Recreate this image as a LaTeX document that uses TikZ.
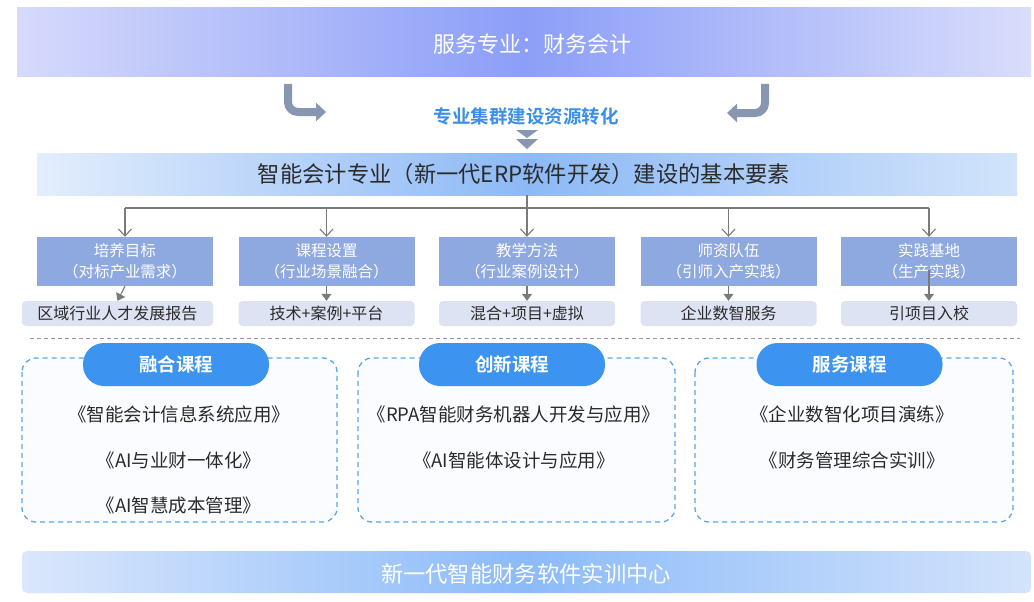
\documentclass[tikz,border=0pt]{standalone}
\usepackage{fontspec}
\setmainfont{Noto Sans CJK SC}
\newfontfamily\cjkb{Noto Sans CJK SC}[BoldFont={Noto Sans CJK SC Bold}]
\usetikzlibrary{arrows.meta,calc}
\definecolor{banA}{HTML}{D6DAFB}
\definecolor{banB}{HTML}{8C9EF8}
\definecolor{banC}{HTML}{D9DDFB}
\definecolor{subA}{HTML}{E3EEFC}
\definecolor{subB}{HTML}{8DB9F6}
\definecolor{subC}{HTML}{D2E4FB}
\definecolor{botA}{HTML}{DAE7FC}
\definecolor{botB}{HTML}{8CBBF9}
\definecolor{botC}{HTML}{D3E3FB}
\definecolor{arrgray}{HTML}{8797B2}
\definecolor{linegray}{HTML}{7A7A7A}
\definecolor{boxblue}{HTML}{8EA8E0}
\definecolor{subbox}{HTML}{DDE3F3}
\definecolor{txtdark}{HTML}{2B2B2B}
\definecolor{titleblue}{HTML}{3B8FE8}
\definecolor{pillblue}{HTML}{3D94F0}
\definecolor{dashblue}{HTML}{5CA6E8}
\definecolor{groupfill}{HTML}{FAFCFF}
\tikzset{
  elembox/.style={fill=boxblue, minimum width=176pt, minimum height=49pt, inner sep=0pt, text=white, font=\fontsize{15.5}{21}\selectfont, align=center},
  resbox/.style={fill=subbox, rounded corners=4pt, minimum width=176pt, minimum height=25pt, inner sep=0pt, text=txtdark, font=\fontsize{16}{18}\selectfont},
  conn/.style={draw=linegray, line width=1.1pt},
  openarr/.style={conn, -{Straight Barb[length=7pt,width=13pt,line width=1.1pt]}},
  fillarr/.style={conn, -{Triangle[length=7pt,width=10pt]}},
  groupbox/.style={draw=dashblue, dash pattern=on 5pt off 4pt, line width=1.3pt, fill=groupfill, rounded corners=14pt},
  pill/.style={fill=pillblue, rounded corners=21pt, minimum width=186pt, minimum height=43pt, inner sep=0pt, text=white, font=\cjkb\bfseries\fontsize{18.5}{20}\selectfont},
  course/.style={text=txtdark, font=\fontsize{18.5}{20}\selectfont, inner sep=0pt},
  bigarr/.style={draw=arrgray, line width=8pt, rounded corners=10pt, -{Triangle[length=10pt,width=18pt]}},
}
\begin{document}
\begin{tikzpicture}[x=1pt,y=-1pt]
\useasboundingbox (0,0) rectangle (1034,602);
\fill[white] (0,0) rectangle (1034,602);
% top banner
\shade[left color=banA, right color=banC, middle color=banB] (17,8) rectangle (1031,77);
\node[text=white, font=\fontsize{22}{24}\selectfont] (top) at (532,44) {服务专业：财务会计};
% curved arrows
\coordinate (la) at (288,84);
\coordinate (lb) at (288,112);
\coordinate (lc) at (326,112);
\draw[bigarr] (la) -- (lb) -- (lc);
\coordinate (ra) at (765,84);
\coordinate (rb) at (765,113);
\coordinate (rc) at (727,113);
\draw[bigarr] (ra) -- (rb) -- (rc);
\node[text=titleblue, font=\cjkb\bfseries\fontsize{18.5}{20}\selectfont] (cluster) at (526,116) {专业集群建设资源转化};
% double chevron
\fill[arrgray] (516,130) -- (538,130) -- (527,138) -- cycle;
\fill[arrgray] (516,139) -- (538,139) -- (527,149) -- cycle;
% second banner
\shade[left color=subA, right color=subC, middle color=subB] (37,153) rectangle (1017,195);
\node[text=txtdark, font=\fontsize{22.3}{24}\selectfont] (elem) at (524,174) {智能会计专业（新一代ERP软件开发）建设的基本要素};
% element boxes
\node[elembox] (b1) at (125,261.5) {培养目标\\（对标产业需求）};
\node[elembox] (b2) at (326.5,261.5) {课程设置\\（行业场景融合）};
\node[elembox] (b3) at (527,261.5) {教学方法\\（行业案例设计）};
\node[elembox] (b4) at (728.5,261.5) {师资队伍\\（引师入产实践）};
\node[elembox] (b5) at (929,261.5) {实践基地\\（生产实践）};
\node[resbox, minimum width=191pt] (r1) at (117.5,313.5) {区域行业人才发展报告};
\node[resbox] (r2) at (326.5,313.5) {技术+案例+平台};
\node[resbox] (r3) at (527,313.5) {混合+项目+虚拟};
\node[resbox] (r4) at (728.5,313.5) {企业数智服务};
\node[resbox] (r5) at (929,313.5) {引项目入校};
% tree connectors
\coordinate (hub) at (527,208);
\draw[conn] (527,195) -- (hub);
\draw[conn] (b1.north |- hub) -- (b5.north |- hub);
\foreach \b in {b1,b2,b3,b4,b5}{
  \draw[openarr] (\b.north |- hub) -- (\b.north);
}
\foreach \i in {1,2,3,4}{
  \draw[fillarr] (b\i.south) -- (r\i.north);
}
\draw[fillarr] ($(b5.south)+(0,-16)$) -- (r5.north);
% separator
\draw[linegray!80, line width=0.9pt, dash pattern=on 4pt off 3pt] (30,338) -- (1020,338);
% groups
\draw[groupbox] (22,358) rectangle (337,522);
\draw[groupbox] (358,358) rectangle (675,522);
\draw[groupbox] (695,358) rectangle (1013,522);
\node[pill] (p1) at (176,364.5) {融合课程};
\node[pill] (p2) at (512,364.5) {创新课程};
\node[pill] (p3) at (849.5,364.5) {服务课程};
\node[course] (c11) at (179,414) {《智能会计信息系统应用》};
\node[course] (c12) at (179,460) {《AI与业财一体化》};
\node[course] (c13) at (179,505) {《AI智慧成本管理》};
\node[course] (c21) at (514,414) {《RPA智能财务机器人开发与应用》};
\node[course] (c22) at (514,460) {《AI智能体设计与应用》};
\node[course] (c31) at (852,414) {《企业数智化项目演练》};
\node[course] (c32) at (852,460) {《财务管理综合实训》};
% bottom banner
\shade[left color=botA, right color=botC, middle color=botB, rounded corners=5pt] (22,551) rectangle (1031,593);
\node[text=white, font=\fontsize{22.3}{24}\selectfont] (center) at (526,574) {新一代智能财务软件实训中心};
\end{tikzpicture}
\end{document}
